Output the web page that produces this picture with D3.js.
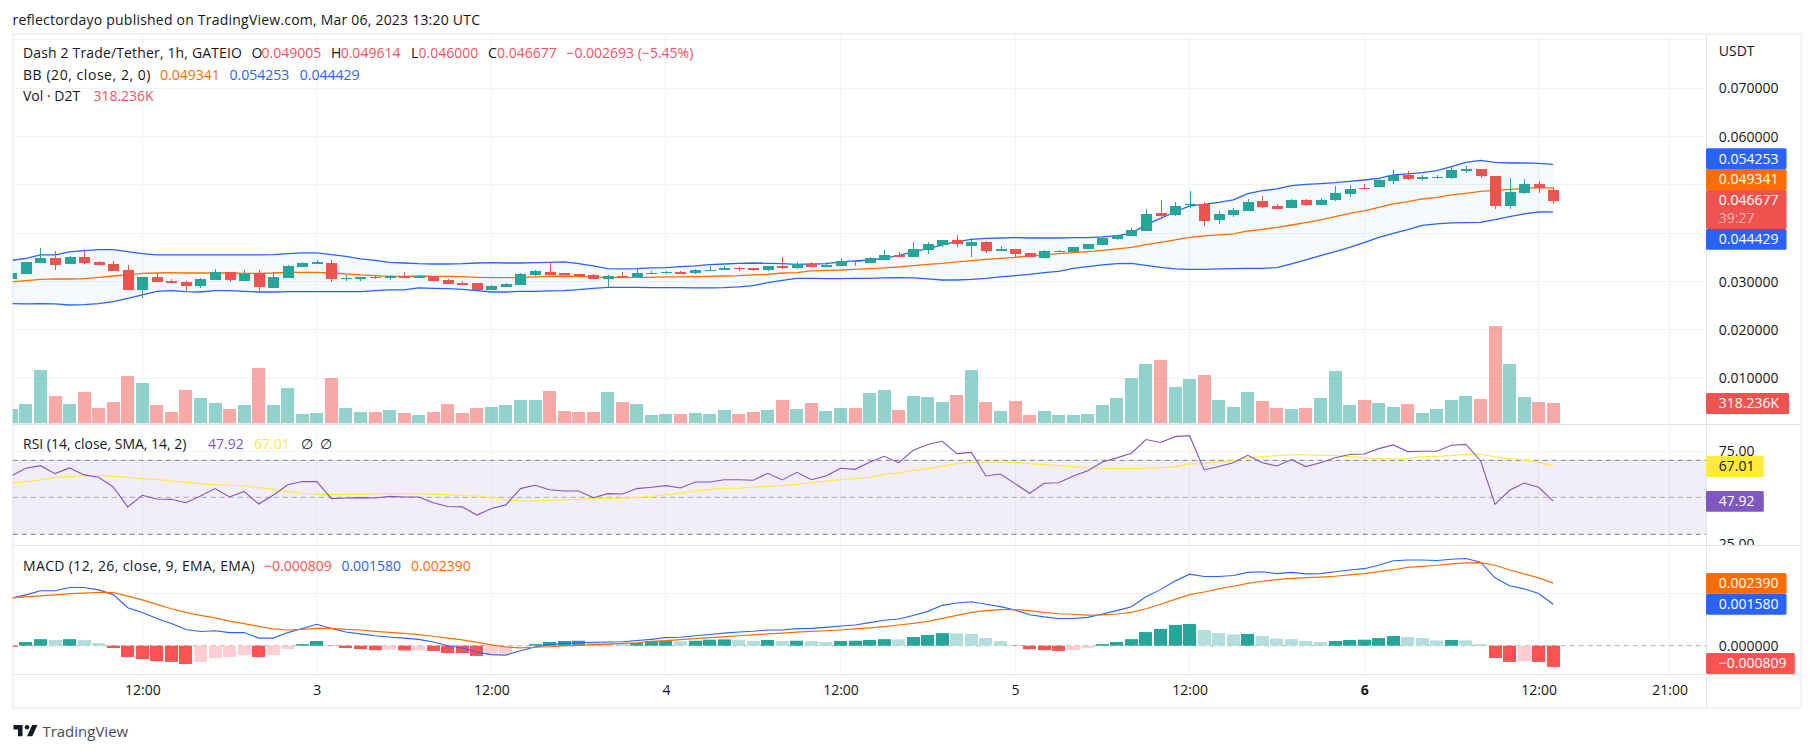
<!DOCTYPE html>
<html>
<head>
<meta charset="utf-8">
<script src="https://cdn.jsdelivr.net/npm/d3@7/dist/d3.min.js"></script>
<style>
  html, body { margin: 0; padding: 0; background: #fff; }
  svg { display: block; }
  text { font-family: "Open Sans", sans-serif; font-size: 14px; fill: #131722; }
</style>
</head>
<body>
<div id="chart"></div>
<script>
// Hours counted from Mar 2 00:00, one candle per hour
var hours = d3.range(3, 110);

var opens = [
  0.03055,0.03159,0.03386,0.03490,0.03366,0.03510,0.03407,0.03366,0.03241,0.02828,
  0.03097,0.03014,0.02993,0.02910,0.03034,0.03200,0.03014,0.03172,0.02869,0.03076,
  0.03303,0.03366,0.03386,0.03055,0.03055,0.03097,0.03076,0.03117,0.03076,0.03117,
  0.03034,0.02972,0.02972,0.02828,0.02890,0.02931,0.03138,0.03200,0.03179,0.03159,
  0.03138,0.03055,0.03117,0.03097,0.03159,0.03179,0.03200,0.03179,0.03228,0.03241,
  0.03283,0.03283,0.03241,0.03324,0.03283,0.03366,0.03303,0.03324,0.03428,0.03386,
  0.03448,0.03552,0.03510,0.03655,0.03759,0.03862,0.03738,0.03821,0.03634,0.03676,
  0.03593,0.03490,0.03614,0.03614,0.03676,0.03759,0.03883,0.03945,0.04048,0.04421,
  0.04379,0.04586,0.04607,0.04276,0.04379,0.04462,0.04669,0.04566,0.04524,0.04690,
  0.04586,0.04690,0.04814,0.04938,0.04959,0.05083,0.05207,0.05124,0.05145,0.05145,
  0.05290,0.05331,0.05186,0.04566,0.04835,0.05021,0.049005];
var highs = [
  0.03179,0.03407,0.03697,0.03634,0.03531,0.03634,0.03428,0.03428,0.03345,0.03097,
  0.03186,0.03055,0.03014,0.03076,0.03262,0.03200,0.03241,0.03241,0.03200,0.03345,
  0.03407,0.03448,0.03448,0.03138,0.03097,0.03117,0.03138,0.03200,0.03138,0.03117,
  0.03055,0.03014,0.02972,0.02931,0.02972,0.03179,0.03241,0.03407,0.03179,0.03159,
  0.03159,0.03138,0.03200,0.03283,0.03221,0.03221,0.03221,0.03262,0.03324,0.03324,
  0.03303,0.03283,0.03324,0.03510,0.03407,0.03407,0.03407,0.03490,0.03428,0.03510,
  0.03655,0.03614,0.03821,0.03821,0.03862,0.03966,0.03903,0.03841,0.03738,0.03676,
  0.03593,0.03655,0.03655,0.03717,0.03779,0.03945,0.03966,0.04110,0.04503,0.04690,
  0.04648,0.04876,0.04648,0.04462,0.04524,0.04710,0.04772,0.04607,0.04710,0.04710,
  0.04731,0.04979,0.05000,0.05021,0.05145,0.05310,0.05290,0.05207,0.05207,0.05372,
  0.05393,0.05331,0.05186,0.05145,0.05124,0.05083,0.049614];
var lows = [
  0.03055,0.03159,0.03386,0.03241,0.03366,0.03366,0.03345,0.03221,0.02828,0.02662,
  0.02993,0.02972,0.02807,0.02869,0.03034,0.02993,0.03014,0.02807,0.02869,0.03076,
  0.03303,0.03366,0.02993,0.03014,0.03014,0.03055,0.03034,0.03076,0.03076,0.03014,
  0.02952,0.02931,0.02828,0.02828,0.02890,0.02931,0.03117,0.03138,0.03138,0.03117,
  0.03055,0.02883,0.03097,0.03097,0.03159,0.03159,0.03159,0.03159,0.03228,0.03241,
  0.03221,0.03221,0.03221,0.03262,0.03262,0.03303,0.03303,0.03324,0.03324,0.03386,
  0.03448,0.03510,0.03510,0.03572,0.03717,0.03717,0.03510,0.03593,0.03634,0.03510,
  0.03510,0.03490,0.03614,0.03614,0.03676,0.03759,0.03862,0.03945,0.04048,0.04297,
  0.04359,0.04524,0.04152,0.04193,0.04338,0.04462,0.04524,0.04503,0.04524,0.04566,
  0.04586,0.04669,0.04752,0.04917,0.04959,0.05021,0.05103,0.05083,0.05124,0.05124,
  0.05248,0.05145,0.04503,0.04503,0.04814,0.04835,0.046];
var closes = [
  0.03179,0.03407,0.03490,0.03345,0.03510,0.03386,0.03345,0.03221,0.02828,0.03097,
  0.02993,0.02972,0.02910,0.03055,0.03200,0.03034,0.03159,0.02890,0.03097,0.03324,
  0.03386,0.03407,0.03055,0.03076,0.03097,0.03076,0.03110,0.03076,0.03117,0.03014,
  0.02952,0.02931,0.02828,0.02910,0.02952,0.03159,0.03221,0.03138,0.03138,0.03117,
  0.03055,0.03117,0.03097,0.03179,0.03179,0.03200,0.03159,0.03241,0.03241,0.03283,
  0.03262,0.03241,0.03324,0.03283,0.03366,0.03303,0.03345,0.03428,0.03407,0.03490,
  0.03552,0.03510,0.03676,0.03779,0.03862,0.03779,0.03821,0.03634,0.03676,0.03572,
  0.03510,0.03634,0.03634,0.03717,0.03779,0.03903,0.03966,0.04069,0.04400,0.04359,
  0.04566,0.04607,0.04255,0.04400,0.04483,0.04648,0.04545,0.04503,0.04690,0.04586,
  0.04690,0.04835,0.04917,0.04917,0.05103,0.05207,0.05124,0.05166,0.05166,0.05310,
  0.05331,0.05186,0.04566,0.04855,0.05021,0.04938,0.046677];

// Volume in thousands of D2T
var volumes = [
  224,303,835,428,303,491,240,334,741,632,
  287,177,522,397,318,224,287,867,287,553,
  146,162,710,240,177,177,209,162,131,177,
  303,162,240,256,287,365,365,506,193,177,
  177,491,334,303,131,146,146,162,146,209,
  146,177,209,365,224,318,193,240,240,475,
  522,209,428,412,334,444,835,334,193,350,
  131,193,131,131,146,287,397,710,929,992,
  569,694,757,365,256,491,350,240,224,240,
  397,820,287,365,318,256,303,162,224,365,
  428,381,1524,929,412,334,318.236];

var bbBasis = [
  0.02993,0.03021,0.03048,0.03055,0.03055,0.03062,0.03090,0.03117,0.03138,0.03172,
  0.03179,0.03186,0.03179,0.03179,0.03179,0.03179,0.03172,0.03172,0.03179,0.03193,
  0.03193,0.03193,0.03179,0.03159,0.03138,0.03124,0.03110,0.03110,0.03117,0.03110,
  0.03110,0.03103,0.03090,0.03083,0.03083,0.03083,0.03097,0.03110,0.03117,0.03110,
  0.03097,0.03090,0.03083,0.03090,0.03090,0.03097,0.03097,0.03103,0.03110,0.03117,
  0.03124,0.03138,0.03152,0.03179,0.03186,0.03221,0.03234,0.03241,0.03255,0.03269,
  0.03283,0.03303,0.03331,0.03359,0.03379,0.03407,0.03434,0.03462,0.03483,0.03503,
  0.03531,0.03552,0.03579,0.03600,0.03621,0.03648,0.03676,0.03710,0.03766,0.03814,
  0.03862,0.03917,0.03945,0.03966,0.03986,0.04048,0.04083,0.04124,0.04172,0.04221,
  0.04276,0.04345,0.04414,0.04462,0.04538,0.04607,0.04655,0.04710,0.04745,0.04793,
  0.04828,0.04869,0.04890,0.04910,0.04931,0.04945,0.049341];
var bbUpper = [
  0.03441,0.03483,0.03552,0.03552,0.03614,0.03641,0.03662,0.03662,0.03621,0.03579,
  0.03552,0.03552,0.03552,0.03552,0.03552,0.03552,0.03552,0.03552,0.03559,0.03579,
  0.03593,0.03593,0.03559,0.03524,0.03469,0.03441,0.03400,0.03386,0.03372,0.03365,
  0.03365,0.03372,0.03386,0.03393,0.03386,0.03386,0.03393,0.03400,0.03407,0.03372,
  0.03324,0.03269,0.03262,0.03269,0.03283,0.03290,0.03310,0.03324,0.03352,0.03365,
  0.03379,0.03386,0.03379,0.03372,0.03359,0.03365,0.03372,0.03407,0.03428,0.03448,
  0.03483,0.03545,0.03614,0.03683,0.03759,0.03828,0.03876,0.03897,0.03903,0.03910,
  0.03903,0.03903,0.03903,0.03910,0.03910,0.03924,0.03952,0.04000,0.04179,0.04310,
  0.04441,0.04566,0.04600,0.04641,0.04690,0.04821,0.04883,0.04917,0.04986,0.05014,
  0.05028,0.05048,0.05076,0.05103,0.05138,0.05207,0.05228,0.05255,0.05297,0.05379,
  0.05469,0.05510,0.05469,0.05455,0.05455,0.05448,0.054253];
var bbLower = [
  0.02545,0.02538,0.02545,0.02538,0.02517,0.02524,0.02545,0.02586,0.02655,0.02724,
  0.02800,0.02814,0.02793,0.02786,0.02814,0.02814,0.02800,0.02786,0.02786,0.02793,
  0.02793,0.02793,0.02793,0.02793,0.02793,0.02814,0.02828,0.02828,0.02869,0.02862,
  0.02855,0.02841,0.02814,0.02786,0.02786,0.02800,0.02800,0.02807,0.02814,0.02834,
  0.02862,0.02883,0.02883,0.02883,0.02876,0.02876,0.02876,0.02869,0.02869,0.02876,
  0.02890,0.02917,0.02979,0.03028,0.03069,0.03069,0.03062,0.03062,0.03069,0.03069,
  0.03076,0.03083,0.03076,0.03055,0.03034,0.03034,0.03048,0.03069,0.03097,0.03124,
  0.03152,0.03186,0.03214,0.03276,0.03310,0.03345,0.03372,0.03379,0.03338,0.03297,
  0.03262,0.03255,0.03255,0.03262,0.03269,0.03276,0.03276,0.03290,0.03365,0.03448,
  0.03538,0.03621,0.03710,0.03807,0.03917,0.04000,0.04076,0.04166,0.04193,0.04214,
  0.04221,0.04228,0.04283,0.04345,0.04400,0.04441,0.044429];

var rsi = [
  61.5,65.7,67.1,62.8,65.9,62.1,60.8,55.6,44.8,51.1,
  49.1,48.9,47.1,50.7,54.7,50.2,53.2,46.4,51.1,56.8,
  58.5,58.5,49.3,49.6,49.8,49.6,50.5,50.2,50.2,47.1,
  45.0,44.8,40.4,43.9,45.9,54.7,56.5,54.1,53.4,53.4,
  49.8,52.0,51.8,54.7,55.4,56.3,55.0,58.3,58.3,59.5,
  59.5,59.2,63.0,59.4,63.5,59.5,61.5,65.7,65.1,68.9,
  72.2,68.7,75.4,78.5,80.3,73.6,74.3,61.5,62.6,57.4,
  52.2,57.6,57.9,61.5,64.4,69.1,71.3,73.8,81.2,79.6,
  82.8,83.3,64.8,66.6,68.7,72.7,68.7,66.9,70.4,66.6,
  68.7,71.4,73.1,73.4,76.3,78.3,74.7,74.9,74.9,78.1,
  78.6,69.8,46.2,53.8,57.7,55.4,47.92];
var rsiMa = [
  57.9,58.3,59.5,60.6,61.2,61.7,61.7,61.4,60.8,60.1,
  59.7,58.8,58.1,57.4,56.8,56.5,56.1,55.2,54.3,53.1,
  52.2,51.6,51.4,51.6,51.6,51.8,52.0,52.0,51.8,51.6,
  51.4,50.9,50.7,49.8,48.6,48.0,48.0,48.4,48.6,48.9,
  49.3,49.5,49.6,50.0,50.5,51.3,52.3,53.4,54.1,54.9,
  55.0,55.4,55.9,56.3,57.0,57.9,58.8,59.5,60.1,60.8,
  62.4,63.2,64.4,65.5,66.9,68.2,68.9,69.1,69.1,68.9,
  68.2,67.7,67.1,66.6,65.9,65.7,65.5,65.5,65.7,65.9,
  66.6,68.1,68.2,69.1,69.8,71.3,72.0,72.5,72.9,72.9,
  72.7,72.5,72.0,71.4,70.9,70.5,71.1,71.8,72.2,72.5,
  73.2,73.4,71.8,70.9,70.2,68.9,67.01];

var macdLine = [
  0.00181,0.00194,0.00210,0.00210,0.00222,0.00222,0.00213,0.00195,0.00145,0.00127,
  0.00104,0.00085,0.00062,0.00054,0.00057,0.00050,0.00050,0.00029,0.00029,0.00050,
  0.00066,0.00082,0.00066,0.00052,0.00045,0.00038,0.00033,0.00029,0.00024,0.00014,
  0.00000,-0.00009,-0.00024,-0.00034,-0.00036,-0.00019,-0.00005,0.00004,0.00009,0.00011,
  0.00013,0.00014,0.00015,0.00020,0.00024,0.00031,0.00032,0.00038,0.00043,0.00048,
  0.00052,0.00055,0.00060,0.00060,0.00065,0.00066,0.00070,0.00075,0.00079,0.00088,
  0.00097,0.00102,0.00115,0.00131,0.00154,0.00163,0.00168,0.00158,0.00149,0.00136,
  0.00118,0.00110,0.00104,0.00104,0.00108,0.00121,0.00134,0.00149,0.00187,0.00214,
  0.00247,0.00273,0.00264,0.00264,0.00268,0.00280,0.00282,0.00275,0.00280,0.00274,
  0.00275,0.00282,0.00289,0.00294,0.00307,0.00324,0.00327,0.00327,0.00325,0.00330,
  0.00333,0.00319,0.00259,0.00229,0.00217,0.00199,0.00158];
var macdSignal = [
  0.00183,0.00186,0.00190,0.00194,0.00199,0.00201,0.00204,0.00203,0.00189,0.00175,
  0.00158,0.00141,0.00127,0.00116,0.00106,0.00094,0.00084,0.00074,0.00064,0.00060,
  0.00062,0.00066,0.00066,0.00062,0.00060,0.00055,0.00051,0.00047,0.00042,0.00036,
  0.00029,0.00022,0.00013,0.00003,-0.00005,-0.00008,-0.00006,-0.00004,-0.00001,0.00001,
  0.00004,0.00006,0.00009,0.00011,0.00017,0.00019,0.00023,0.00027,0.00031,0.00034,
  0.00038,0.00041,0.00045,0.00048,0.00052,0.00055,0.00057,0.00060,0.00064,0.00068,
  0.00073,0.00079,0.00085,0.00093,0.00104,0.00116,0.00127,0.00134,0.00138,0.00138,
  0.00134,0.00127,0.00122,0.00120,0.00117,0.00118,0.00121,0.00127,0.00141,0.00158,
  0.00177,0.00195,0.00205,0.00217,0.00227,0.00238,0.00246,0.00252,0.00257,0.00260,
  0.00262,0.00265,0.00270,0.00275,0.00283,0.00290,0.00299,0.00303,0.00307,0.00312,
  0.00316,0.00317,0.00307,0.00289,0.00274,0.00259,0.00239];
var macdHist = [
  -0.00004,0.00014,0.00025,0.00022,0.00025,0.00022,0.00010,-0.00009,-0.00043,-0.00051,
  -0.00059,-0.00062,-0.00070,-0.00062,-0.00047,-0.00043,-0.00036,-0.00043,-0.00036,-0.00013,
  0.00006,0.00018,-0.00001,-0.00009,-0.00013,-0.00017,-0.00015,-0.00018,-0.00017,-0.00020,
  -0.00028,-0.00028,-0.00039,-0.00032,-0.00031,-0.00001,0.00006,0.00014,0.00018,0.00019,
  0.00014,0.00011,0.00010,0.00011,0.00018,0.00019,0.00017,0.00019,0.00023,0.00024,
  0.00023,0.00018,0.00022,0.00018,0.00019,0.00018,0.00014,0.00018,0.00019,0.00022,
  0.00025,0.00024,0.00033,0.00041,0.00048,0.00047,0.00045,0.00029,0.00018,-0.00001,
  -0.00013,-0.00017,-0.00020,-0.00017,-0.00009,0.00006,0.00014,0.00025,0.00052,0.00064,
  0.00079,0.00083,0.00060,0.00048,0.00043,0.00045,0.00037,0.00027,0.00025,0.00018,
  0.00014,0.00018,0.00022,0.00023,0.00029,0.00037,0.00033,0.00029,0.00020,0.00022,
  0.00020,0.00006,-0.00047,-0.00062,-0.00059,-0.00062,-0.000809];

// Axis ticks. The 0.04 and 0.05 labels are hidden behind the value tags in the
// original, so they only get gridlines
var priceGrid = [0.01, 0.02, 0.03, 0.04, 0.05, 0.06, 0.07, 0.08];
var priceTicks = [0.01, 0.02, 0.03, 0.06, 0.07];
var rsiTicks = [25, 75];
var macdTicks = [0];
var timeTickHours = [12, 24, 36, 48, 60, 72, 84, 96, 108, 117];
var timeTickLabels = ["12:00", "3", "12:00", "4", "12:00", "5", "12:00", "6", "12:00", "21:00"];

var width = 1814, height = 753;
var left = 12.7, axisX = 1706, right = 1800;

// Colors
var green = "#26a69a", red = "#ef5350", blue = "#2962ff", orange = "#ff6d00",
    purple = "#7e57c2", yellow = "#ffeb3b", grid = "#f0f3fa", border = "#e0e3eb";

var x = d3.scaleLinear().domain([12, 108]).range([142.3, 1538.7]);
var yPrice = d3.scaleLinear().domain([0.01, 0.07]).range([378.3, 88.3]);
var yVol = d3.scaleLinear().domain([0, 1000]).range([423.3, 359.5]);
var yRsi = d3.scaleLinear().domain([30, 70]).range([534.3, 460.3]);
var yMacd = d3.scaleLinear().domain([0, 0.002]).range([645.7, 593.3]);

var svg = d3.select("#chart").append("svg").attr("width", width).attr("height", height);

var defs = svg.append("defs");
defs.append("clipPath").attr("id", "plotClip").append("rect")
    .attr("x", left).attr("y", 34).attr("width", axisX - left).attr("height", 640);
defs.append("clipPath").attr("id", "rsiAxisClip").append("rect")
    .attr("x", axisX).attr("y", 424).attr("width", right - axisX).attr("height", 121);

function label(g, tx, ty, str, color, extra) {
  var t = g.append("text").attr("x", tx).attr("y", ty).attr("dy", "0.35em").text(str);
  if (color) t.style("fill", color);
  if (extra) t.style("font-weight", extra);
  return t;
}

// Title and frame
label(svg, 12.5, 20, "reflectordayo published on TradingView.com, Mar 06, 2023 13:20 UTC").attr("textLength", 467.5);
svg.append("rect").attr("x", left).attr("y", 34).attr("width", 1788.5).attr("height", 674)
    .attr("fill", "#fff").attr("stroke", grid).attr("stroke-width", 2);

// Gridlines
var gridG = svg.append("g").attr("stroke", grid).attr("stroke-width", 1).attr("shape-rendering", "crispEdges");
timeTickHours.forEach(function(h) {
  gridG.append("line").attr("x1", x(h)).attr("x2", x(h)).attr("y1", 35).attr("y2", 674);
});
priceGrid.forEach(function(p) {
  gridG.append("line").attr("x1", left).attr("x2", axisX).attr("y1", yPrice(p)).attr("y2", yPrice(p));
});
gridG.append("line").attr("x1", left).attr("x2", axisX).attr("y1", yRsi(75)).attr("y2", yRsi(75));
gridG.append("line").attr("x1", left).attr("x2", axisX).attr("y1", yMacd(0.002)).attr("y2", yMacd(0.002));

var plot = svg.append("g").attr("clip-path", "url(#plotClip)");

// Bollinger band fill
var bandArea = d3.area()
    .x(function(d, i) { return x(hours[i]); })
    .y0(function(d, i) { return yPrice(bbLower[i]); })
    .y1(function(d) { return yPrice(d); });
plot.append("path").datum(bbUpper).attr("d", bandArea).attr("fill", "#2196f3").attr("fill-opacity", 0.05);

function drawLine(values, yScale, color, w) {
  var line = d3.line()
      .x(function(d, i) { return x(hours[i]); })
      .y(function(d) { return yScale(d); });
  plot.append("path").datum(values).attr("d", line)
      .attr("fill", "none").attr("stroke", color).attr("stroke-width", w);
}

// Volume bars sit under the candles
plot.selectAll("rect.vol").data(volumes).enter().append("rect")
    .attr("class", "vol")
    .attr("x", function(d, i) { return Math.round(x(hours[i]) - 6.5); })
    .attr("width", 13)
    .attr("y", function(d) { return yVol(d); })
    .attr("height", function(d) { return yVol(0) - yVol(d); })
    .attr("fill", function(d, i) { return closes[i] >= opens[i] ? green : red; })
    .attr("fill-opacity", 0.5);

drawLine(bbUpper, yPrice, blue, 1.3);
drawLine(bbLower, yPrice, blue, 1.3);
drawLine(bbBasis, yPrice, orange, 1.3);

// Candles
var candles = plot.selectAll("g.candle").data(hours).enter().append("g").attr("class", "candle")
    .attr("shape-rendering", "crispEdges");
candles.append("line")
    .attr("x1", function(h) { return Math.round(x(h)) + 0.5; })
    .attr("x2", function(h) { return Math.round(x(h)) + 0.5; })
    .attr("y1", function(h, i) { return yPrice(highs[i]); })
    .attr("y2", function(h, i) { return yPrice(lows[i]); })
    .attr("stroke", function(h, i) { return closes[i] >= opens[i] ? green : red; });
candles.append("rect")
    .attr("x", function(h) { return Math.round(x(h)) - 5; })
    .attr("width", 11)
    .attr("y", function(h, i) { return yPrice(Math.max(opens[i], closes[i])); })
    .attr("height", function(h, i) { return Math.max(1, Math.abs(yPrice(opens[i]) - yPrice(closes[i]))); })
    .attr("fill", function(h, i) { return closes[i] >= opens[i] ? green : red; });

// RSI pane
plot.append("rect").attr("x", left).attr("width", axisX - left)
    .attr("y", yRsi(70)).attr("height", yRsi(30) - yRsi(70))
    .attr("fill", purple).attr("fill-opacity", 0.1);
[70, 50, 30].forEach(function(v) {
  plot.append("line").attr("x1", left).attr("x2", axisX).attr("y1", yRsi(v)).attr("y2", yRsi(v))
      .attr("stroke", "#787b86").attr("stroke-opacity", v === 50 ? 0.6 : 1)
      .attr("stroke-dasharray", "5 4");
});
drawLine(rsiMa, yRsi, yellow, 1.2);
drawLine(rsi, yRsi, purple, 1.1);

// MACD pane
plot.append("line").attr("x1", left).attr("x2", axisX).attr("y1", yMacd(0)).attr("y2", yMacd(0))
    .attr("stroke", "#787b86").attr("stroke-opacity", 0.6).attr("stroke-dasharray", "5 4");
plot.selectAll("rect.hist").data(macdHist).enter().append("rect")
    .attr("class", "hist")
    .attr("x", function(d, i) { return Math.round(x(hours[i]) - 6.5); })
    .attr("width", 13)
    .attr("y", function(d) { return d >= 0 ? yMacd(d) : yMacd(0); })
    .attr("height", function(d) { return Math.abs(yMacd(d) - yMacd(0)); })
    .attr("fill", function(d, i) {
      var prev = i > 0 ? macdHist[i - 1] : d;
      if (d >= 0) return d >= prev ? "#26a69a" : "#b2dfdb";
      return d <= prev ? "#ff5252" : "#ffcdd2";
    });
drawLine(macdLine, yMacd, blue, 1.1);
drawLine(macdSignal, yMacd, orange, 1.2);

// Pane separators and axis lines
var sep = svg.append("g").attr("stroke", border).attr("shape-rendering", "crispEdges");
sep.append("line").attr("x1", axisX).attr("x2", axisX).attr("y1", 34).attr("y2", 708);
[424, 545.5, 674.5].forEach(function(yy) {
  sep.append("line").attr("x1", left).attr("x2", right).attr("y1", yy).attr("y2", yy);
});

// Right axes, built with d3.axisRight
function rightAxis(scale, ticks, fmt, parent) {
  var axis = d3.axisRight(scale).tickValues(ticks).tickSize(0).tickPadding(12.8).tickFormat(fmt);
  var g = parent.append("g").attr("transform", "translate(" + axisX + ",0)").call(axis);
  g.select(".domain").remove();
  g.selectAll("text").style("font-size", "14px").style("font-family", "'Open Sans', sans-serif").style("fill", "#131722");
  return g;
}
rightAxis(yPrice, priceTicks, d3.format(".6f"), svg);
rightAxis(yRsi, rsiTicks, d3.format(".2f"), svg.append("g").attr("clip-path", "url(#rsiAxisClip)"));
rightAxis(yMacd, macdTicks, d3.format(".6f"), svg);
label(svg, 1718.8, 50.7, "USDT");

// Time axis
var timeAxis = d3.axisBottom(x).tickValues(timeTickHours).tickSize(0).tickPadding(0)
    .tickFormat(function(h, i) { return timeTickLabels[i]; });
var timeG = svg.append("g").attr("transform", "translate(0,685)").call(timeAxis);
timeG.select(".domain").remove();
timeG.selectAll("text")
    .style("font-size", "14px").style("font-family", "'Open Sans', sans-serif").style("fill", "#131722")
    .style("font-weight", function(h) { return h === 96 ? 700 : 400; });

// Value tags on the right
function tag(y0, y1, x1, color, str, textColor, textY) {
  svg.append("rect").attr("x", axisX).attr("y", y0).attr("width", x1 - axisX).attr("height", y1 - y0)
      .attr("rx", 1.5).attr("fill", color);
  label(svg, 1718.8, textY || (y0 + y1) / 2, str, textColor || "#fff");
}
tag(148.3, 169, 1786.5, blue, "0.054253");
tag(169, 190, 1786.5, orange, "0.049341");
tag(190, 229, 1786.5, red, "0.046677", "#fff", 200.5);
label(svg, 1718.8, 218.5, "39:27", "#f9b4b2");
tag(229, 249.7, 1786.5, blue, "0.044429");
tag(393, 414, 1789, red, "318.236K");
tag(456, 477, 1763.8, yellow, "67.01", "#131722");
tag(491, 511.7, 1763.8, purple, "47.92");
tag(573, 593.7, 1786.5, orange, "0.002390");
tag(593.7, 614.7, 1786.5, blue, "0.001580");
tag(653, 674, 1794.8, "#ff5252", "\u22120.000809");

// Legends
var legendRed = "#f7525f";
label(svg, 23, 53.3, "Dash 2 Trade/Tether, 1h, GATEIO").attr("textLength", 219);
label(svg, 251.5, 53.3, "O"); label(svg, 261.6, 53.3, "0.049005", legendRed);
label(svg, 331, 53.3, "H");   label(svg, 340.7, 53.3, "0.049614", legendRed);
label(svg, 411, 53.3, "L");   label(svg, 418.6, 53.3, "0.046000", legendRed);
label(svg, 488, 53.3, "C");   label(svg, 497, 53.3, "0.046677", legendRed);
label(svg, 566.4, 53.3, "\u22120.002693 (\u22125.45%)", legendRed);
label(svg, 23, 75, "BB (20, close, 2, 0)").attr("textLength", 127.5);
label(svg, 160, 75, "0.049341", orange);
label(svg, 229.6, 75, "0.054253", blue);
label(svg, 299.8, 75, "0.044429", blue);
label(svg, 23, 96, "Vol \u00b7 D2T");
label(svg, 93.4, 96, "318.236K", legendRed);
label(svg, 23, 444, "RSI (14, close, SMA, 14, 2)");
label(svg, 208, 444, "47.92", purple);
label(svg, 254, 444, "67.01", yellow);
label(svg, 301, 444, "\u2205");
label(svg, 319.5, 444, "\u2205");
label(svg, 23, 565.7, "MACD (12, 26, close, 9, EMA, EMA)").attr("textLength", 231.6);
label(svg, 264, 565.7, "\u22120.000809", "#ff5252");
label(svg, 341.4, 565.7, "0.001580", blue);
label(svg, 411, 565.7, "0.002390", orange);

// Logo
var logo = svg.append("g").attr("transform", "translate(12,720.5) scale(0.75)").attr("fill", "#131722");
logo.append("path").attr("d", "M14 6H2v6h6v9h6V6zm13 15h-6.96L27 6h6.96L27 21z");
logo.append("circle").attr("cx", 20).attr("cy", 9).attr("r", 3);
label(svg, 42.4, 732, "TradingView").style("font-size", "15px").style("fill", "#4a4d57");
</script>
</body>
</html>
